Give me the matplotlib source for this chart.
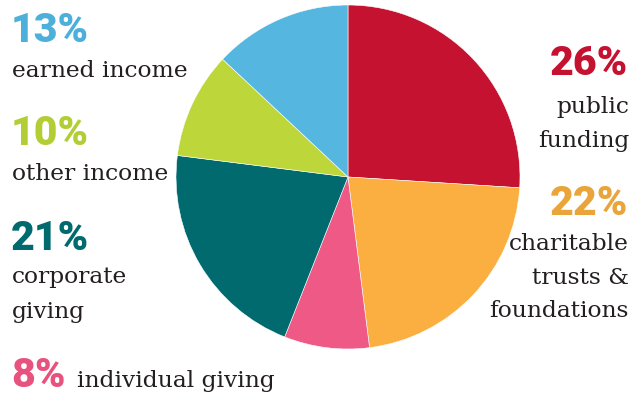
import matplotlib.pyplot as plt

# shares, clockwise from 12 o'clock
labels = ["public\nfunding", "charitable\ntrusts &\nfoundations", "individual giving",
          "corporate\ngiving", "other income", "earned income"]
shares = [26, 22, 8, 21, 10, 13]
colors = ["#C41230", "#FBAF40", "#EE5A85", "#006A6E", "#BDD63A", "#55B6E0"]
pct_colors = ["#C41230", "#E9A43A", "#E8527F", "#006A6E", "#B3CD35", "#4DB0DA"]

W, H = 634, 396
fig = plt.figure(figsize=(W / 100, H / 100), dpi=100)

# pie centred at (348, 177) px, radius 172 px
cx, cy, r = 348, 177, 172
ax = fig.add_axes([(cx - r) / W, (H - cy - r) / H, 2 * r / W, 2 * r / H])
ax.pie(shares, colors=colors, startangle=90, counterclock=False,
       wedgeprops=dict(edgecolor="white", linewidth=0.4))
ax.set_xlim(-1, 1)
ax.set_ylim(-1, 1)
ax.set_aspect("equal")
ax.axis("off")


def px(x, y):
    return x / W, 1 - y / H


pct_font = dict(family="Roboto", fontweight=900, fontsize=29.5)
txt_font = dict(family="DejaVu Serif", fontsize=16.8, color="#231F20")

# left column
left = [(5, 42, 77), (4, 145, 180), (3, 250, 283)]
for i, yp, yl in left:
    fig.text(*px(11, yp), f"{shares[i]}%", color=pct_colors[i], va="baseline",
             ha="left", **pct_font)
    for k, line in enumerate(labels[i].split("\n")):
        fig.text(*px(12, yl + 35 * k), line, va="baseline", ha="left", **txt_font)

# individual giving on one line
fig.text(*px(11, 387), f"{shares[2]}%", color=pct_colors[2], va="baseline",
         ha="left", **pct_font)
fig.text(*px(77, 387), labels[2], va="baseline", ha="left", **txt_font)

# right column
right = [(0, 75, 113), (1, 215, 250)]
for i, yp, yl in right:
    fig.text(*px(628, yp), f"{shares[i]}%", color=pct_colors[i], va="baseline",
             ha="right", **pct_font)
    for k, line in enumerate(labels[i].split("\n")):
        fig.text(*px(629, yl + 33.5 * k), line, va="baseline", ha="right", **txt_font)

fig.savefig("out.png", dpi=100)
